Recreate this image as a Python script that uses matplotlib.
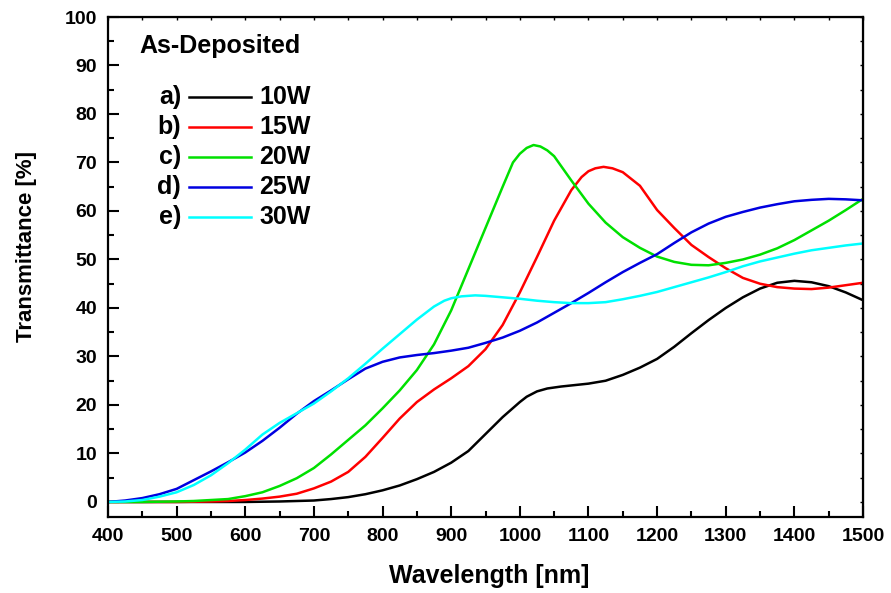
import numpy as np
import matplotlib
matplotlib.use('Agg')
import matplotlib.pyplot as plt
from matplotlib.ticker import MultipleLocator, NullFormatter

plt.rcParams['font.family'] = ['Liberation Sans', 'DejaVu Sans']
plt.rcParams['font.weight'] = 'bold'

# 10W
wl_10w = [400, 500, 600, 625, 650, 675, 700, 725, 750, 775, 800, 825, 850, 875, 900,
          925, 950, 975, 1000, 1010, 1025, 1040, 1060, 1080, 1100, 1125, 1150, 1175,
          1200, 1225, 1250, 1275, 1300, 1325, 1350, 1375, 1400, 1425, 1450, 1475, 1500]
t_10w = [0, 0, 0, 0.05, 0.1, 0.2, 0.3, 0.6, 1.0, 1.6, 2.4, 3.4, 4.7, 6.2, 8.1,
         10.5, 14.0, 17.5, 20.6, 21.7, 22.8, 23.4, 23.8, 24.1, 24.4, 25.0, 26.2, 27.7,
         29.5, 32.0, 34.8, 37.5, 40.0, 42.2, 44.0, 45.2, 45.6, 45.3, 44.5, 43.2, 41.6]

# 15W
wl_15w = [400, 500, 525, 550, 575, 600, 625, 650, 675, 700, 725, 750, 775, 800, 825,
          850, 875, 900, 925, 950, 975, 1000, 1025, 1050, 1075, 1090, 1100, 1110, 1122,
          1135, 1150, 1175, 1200, 1225, 1250, 1275, 1300, 1325, 1350, 1375, 1400,
          1425, 1450, 1475, 1500]
t_15w = [0, 0, 0.05, 0.1, 0.2, 0.4, 0.7, 1.1, 1.7, 2.8, 4.2, 6.2, 9.3, 13.2, 17.2,
         20.6, 23.2, 25.5, 28.0, 31.5, 36.5, 43.2, 50.5, 58.0, 64.3, 67.0, 68.2, 68.8, 69.1,
         68.8, 68.0, 65.2, 60.2, 56.5, 53.0, 50.5, 48.2, 46.2, 45.0, 44.3, 44.0,
         43.9, 44.2, 44.7, 45.2]

# 20W
wl_20w = [400, 450, 475, 500, 525, 550, 575, 600, 625, 650, 675, 700, 725, 750, 775,
          800, 825, 850, 875, 900, 925, 950, 975, 990, 1000, 1010, 1020, 1030, 1040,
          1050, 1062, 1075, 1100, 1125, 1150, 1175, 1200, 1225, 1250, 1275, 1300,
          1325, 1350, 1375, 1400, 1425, 1450, 1475, 1500]
t_20w = [0, 0, 0.05, 0.1, 0.2, 0.4, 0.6, 1.2, 2.0, 3.3, 4.9, 7.0, 9.8, 12.8, 15.8,
         19.3, 23.0, 27.2, 32.5, 39.5, 48.0, 56.5, 65.0, 70.0, 71.8, 73.0, 73.6, 73.3, 72.5,
         71.3, 68.9, 66.3, 61.5, 57.6, 54.6, 52.4, 50.6, 49.5, 48.9, 48.8, 49.3,
         50.0, 51.0, 52.3, 54.0, 56.0, 58.0, 60.2, 62.5]

# 25W
wl_25w = [400, 425, 450, 475, 500, 525, 550, 575, 600, 625, 650, 675, 700, 725, 750,
          775, 800, 825, 850, 875, 900, 925, 950, 975, 1000, 1025, 1050, 1075, 1100,
          1125, 1150, 1175, 1200, 1225, 1250, 1275, 1300, 1325, 1350, 1375, 1400,
          1425, 1450, 1475, 1500]
t_25w = [0, 0.3, 0.8, 1.6, 2.7, 4.5, 6.3, 8.2, 10.2, 12.6, 15.3, 18.2, 20.8, 23.0, 25.3,
         27.5, 28.9, 29.8, 30.3, 30.7, 31.2, 31.8, 32.8, 33.9, 35.3, 37.0, 39.0, 41.0, 43.1,
         45.3, 47.4, 49.3, 51.1, 53.4, 55.6, 57.4, 58.8, 59.8, 60.7, 61.4, 62.0,
         62.3, 62.5, 62.4, 62.2]

# 30W
wl_30w = [400, 425, 450, 475, 500, 525, 550, 575, 600, 625, 650, 675, 700, 725, 750,
          775, 800, 825, 850, 875, 890, 900, 915, 935, 950, 975, 1000, 1025, 1050, 1075,
          1100, 1125, 1150, 1175, 1200, 1225, 1250, 1275, 1300, 1325, 1350, 1375, 1400,
          1425, 1450, 1475, 1500]
t_30w = [0, 0.1, 0.4, 1.1, 2.0, 3.5, 5.5, 8.0, 10.8, 13.9, 16.3, 18.3, 20.3, 22.8, 25.5,
         28.5, 31.6, 34.6, 37.6, 40.3, 41.5, 42.0, 42.4, 42.6, 42.5, 42.2, 41.9, 41.5, 41.2,
         41.0, 41.0, 41.2, 41.8, 42.5, 43.3, 44.3, 45.3, 46.3, 47.4, 48.6, 49.6, 50.4, 51.2,
         51.9, 52.4, 52.9, 53.3]

letters = ['a)', 'b)', 'c)', 'd)', 'e)']
labels = ['10W', '15W', '20W', '25W', '30W']
colors = ['#000000', '#ff0000', '#00e000', '#0000e0', '#00ffff']
series = [(wl_10w, t_10w), (wl_15w, t_15w), (wl_20w, t_20w), (wl_25w, t_25w), (wl_30w, t_30w)]

fig = plt.figure(figsize=(8.91, 5.93), dpi=100)
ax = fig.add_axes([108 / 891, 1 - 517 / 593, 755 / 891, 500 / 593])

for (x, y), c in zip(series, colors):
    ax.plot(x, y, color=c, lw=1.8)

ax.set_xlim(400, 1500)
ax.set_ylim(-3.1, 100)
ax.xaxis.set_major_locator(MultipleLocator(100))
ax.xaxis.set_minor_locator(MultipleLocator(50))
ax.yaxis.set_major_locator(MultipleLocator(10))
ax.yaxis.set_minor_locator(MultipleLocator(5))
ax.tick_params(which='major', direction='in', length=8, width=1.5, labelsize=14, pad=8)
ax.tick_params(which='minor', direction='in', length=4.5, width=1.5)
for sp in ax.spines.values():
    sp.set_linewidth(1.6)

# tiny ticks on top and right
top = ax.secondary_xaxis('top')
top.xaxis.set_major_locator(MultipleLocator(50))
top.xaxis.set_major_formatter(NullFormatter())
top.tick_params(direction='in', length=2, width=1)
right = ax.secondary_yaxis('right')
right.yaxis.set_major_locator(MultipleLocator(5))
right.yaxis.set_major_formatter(NullFormatter())
right.tick_params(direction='in', length=2, width=1)

ax.set_xlabel('Wavelength [nm]', fontsize=18, fontweight='bold')
ax.set_ylabel('Transmittance [%]', fontsize=16, fontweight='bold')
ax.xaxis.set_label_coords(0.505, -0.094)
ax.yaxis.set_label_coords(-0.094, 0.54)

# legend drawn by hand
ax.text(0.042, 0.942, 'As-Deposited', transform=ax.transAxes, fontsize=18,
        fontweight='bold', va='center', ha='left')
row_y = [0.84, 0.78, 0.72, 0.66, 0.60]
for y, let, lab, c in zip(row_y, letters, labels, colors):
    ax.text(0.097, y, let, transform=ax.transAxes, fontsize=18, fontweight='bold',
            va='center', ha='right')
    ax.plot([0.107, 0.190], [y, y], transform=ax.transAxes, color=c, lw=1.8)
    ax.text(0.200, y, lab, transform=ax.transAxes, fontsize=18, fontweight='bold',
            va='center', ha='left')

fig.savefig('out.png', dpi=100)
